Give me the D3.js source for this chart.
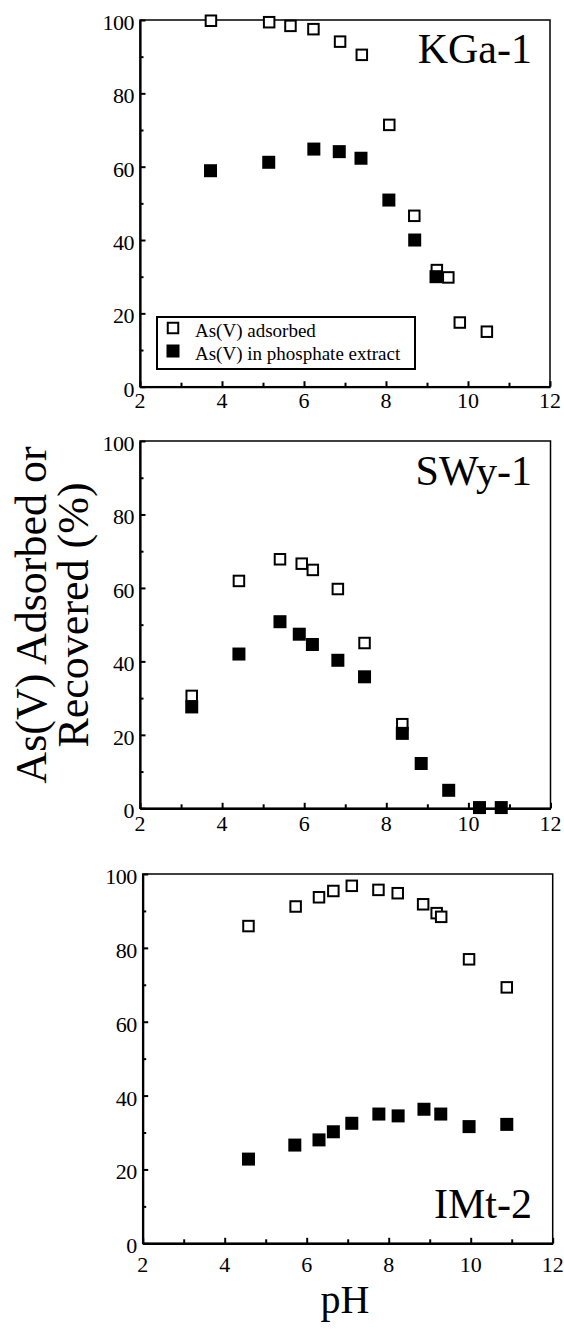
<!DOCTYPE html>
<html>
<head>
<meta charset="utf-8">
<script src="https://cdn.jsdelivr.net/npm/d3@7"></script>
<style>
  body { margin: 0; background: #fff; }
  svg text { font-family: "Liberation Serif", "Times New Roman", serif; fill: #000; }
</style>
</head>
<body>
<div id="chart"></div>
<script>
// KGa-1
var kgaAdsPH  = [3.73, 5.15, 5.67, 6.23, 6.88, 7.41, 8.08, 8.69, 9.24, 9.52, 9.80, 10.46];
var kgaAds    = [99.8, 99.4, 98.4, 97.5, 94.1, 90.5, 71.4, 46.6, 31.8, 29.8, 17.5, 15.0];
var kgaExtPH  = [3.72, 5.14, 6.24, 6.86, 7.39, 8.07, 8.70, 9.22];
var kgaExt    = [58.9, 61.2, 64.8, 64.1, 62.3, 50.9, 40.0, 30.0];
// SWy-1
var swyAdsPH  = [3.26, 4.41, 5.41, 5.94, 6.21, 6.82, 7.47, 8.39];
var swyAds    = [30.6, 61.9, 67.8, 66.6, 64.9, 59.7, 45.0, 22.9];
var swyExtPH  = [3.26, 4.41, 5.41, 5.88, 6.20, 6.82, 7.47, 8.39, 8.85, 9.52, 10.27, 10.80];
var swyExt    = [27.6, 42.0, 50.8, 47.4, 44.6, 40.3, 35.8, 20.4, 12.2, 4.9, 0.2, 0.2];
// IMt-2
var imtAdsPH  = [4.58, 5.73, 6.30, 6.65, 7.10, 7.75, 8.22, 8.84, 9.17, 9.28, 9.96, 10.88];
var imtAds    = [85.9, 91.2, 93.7, 95.4, 96.8, 95.7, 94.8, 91.8, 89.4, 88.4, 76.9, 69.3];
var imtExtPH  = [4.58, 5.71, 6.30, 6.65, 7.10, 7.76, 8.23, 8.86, 9.27, 9.96, 10.88];
var imtExt    = [22.8, 26.6, 28.0, 30.2, 32.5, 35.0, 34.5, 36.3, 35.0, 31.6, 32.2];

var panelNames = ["KGa-1", "SWy-1", "IMt-2"];
var xMajor = [2, 4, 6, 8, 10, 12];
var xMinor = [3, 5, 7, 9, 11];
var yMajor = [0, 20, 40, 60, 80, 100];
var yMinor = [10, 30, 50, 70, 90];
var legendLabels = ["As(V) adsorbed", "As(V) in phosphate extract"];

function zip(xs, ys) {
    return xs.map(function(x, i){ return {ph: x, v: ys[i]}; });
}

var panels = [
    {name: panelNames[0], ads: zip(kgaAdsPH, kgaAds), ext: zip(kgaExtPH, kgaExt),
     left: 140, right: 550, top: 20, bottom: 386.7, xPad: 6, titleY: 63, legend: true},
    {name: panelNames[1], ads: zip(swyAdsPH, swyAds), ext: zip(swyExtPH, swyExt),
     left: 140, right: 550.5, top: 441, bottom: 808.3, xPad: 7, titleY: 485},
    {name: panelNames[2], ads: zip(imtAdsPH, imtAds), ext: zip(imtExtPH, imtExt),
     left: 142.7, right: 552.7, top: 874, bottom: 1243.3, xPad: 13, titleY: 1218}
];

var svg = d3.select("#chart").append("svg")
    .attr("width", 564)
    .attr("height", 1329);

var openSize = 10.5, fillSize = 13;

panels.forEach(function(p){
    var x = d3.scaleLinear().domain([2, 12]).range([p.left, p.right]);
    var y = d3.scaleLinear().domain([0, 100]).range([p.bottom, p.top]);

    var g = svg.append("g");

    // frame (top & right thinner)
    g.append("rect")
        .attr("x", p.left).attr("y", p.top)
        .attr("width", p.right - p.left).attr("height", p.bottom - p.top)
        .attr("fill", "none").attr("stroke", "#000").attr("stroke-width", 1.5);

    // minor ticks
    g.append("g")
        .attr("transform", "translate(0," + p.bottom + ")")
        .call(d3.axisBottom(x).tickValues(xMinor).tickSize(-4).tickSizeOuter(0).tickFormat(""))
        .call(function(s){ s.select(".domain").remove(); s.selectAll("line").attr("stroke-width", 2); });
    g.append("g")
        .attr("transform", "translate(" + p.left + ",0)")
        .call(d3.axisLeft(y).tickValues(yMinor).tickSize(-3.5).tickSizeOuter(0).tickFormat(""))
        .call(function(s){ s.select(".domain").remove(); s.selectAll("line").attr("stroke-width", 2); });

    // major axes (lines only, labels drawn below)
    var xa = g.append("g")
        .attr("transform", "translate(0," + p.bottom + ")")
        .call(d3.axisBottom(x).tickValues(xMajor).tickSize(-5.5).tickSizeOuter(0).tickFormat(""));
    var ya = g.append("g")
        .attr("transform", "translate(" + p.left + ",0)")
        .call(d3.axisLeft(y).tickValues(yMajor).tickSize(-5.5).tickSizeOuter(0).tickFormat(""));
    [xa, ya].forEach(function(a){
        a.select(".domain").attr("stroke-width", 2.2);
        a.selectAll("line").attr("stroke-width", 2);
        a.selectAll("text").remove();
    });

    g.selectAll(".xlab").data(xMajor).enter().append("text")
        .attr("class", "xlab")
        .attr("x", function(d){ return x(d); })
        .attr("y", p.bottom + p.xPad + 15.5)
        .attr("text-anchor", "middle")
        .style("font-size", "22px")
        .text(function(d){ return d; });

    g.selectAll(".ylab").data(yMajor).enter().append("text")
        .attr("class", "ylab")
        .attr("x", p.left - 6)
        .attr("y", function(d){ return y(d) + 10; })
        .attr("text-anchor", "end")
        .attr("letter-spacing", "-0.5px")
        .style("font-size", "22px")
        .text(function(d){ return d; });

    // open squares (adsorbed)
    g.selectAll(".ads").data(p.ads).enter().append("rect")
        .attr("class", "ads")
        .attr("x", function(d){ return x(d.ph) - openSize / 2; })
        .attr("y", function(d){ return y(d.v) - openSize / 2; })
        .attr("width", openSize).attr("height", openSize)
        .attr("fill", "#fff").attr("stroke", "#000").attr("stroke-width", 2);

    // filled squares (extract)
    g.selectAll(".ext").data(p.ext).enter().append("rect")
        .attr("class", "ext")
        .attr("x", function(d){ return x(d.ph) - fillSize / 2; })
        .attr("y", function(d){ return y(d.v) - fillSize / 2; })
        .attr("width", fillSize).attr("height", fillSize)
        .attr("fill", "#000");

    g.append("text")
        .attr("x", 532).attr("y", p.titleY)
        .attr("text-anchor", "end")
        .style("font-size", "42px")
        .text(p.name);

    if (p.legend) {
        var lg = g.append("g");
        lg.append("rect")
            .attr("x", 157).attr("y", 317).attr("width", 258).attr("height", 52)
            .attr("fill", "#fff").attr("stroke", "#000").attr("stroke-width", 2);
        legendLabels.forEach(function(lab, i){
            var cy = 328 + i * 23;
            if (i === 0) {
                lg.append("rect").attr("x", 173 - openSize / 2).attr("y", cy - openSize / 2)
                    .attr("width", openSize).attr("height", openSize)
                    .attr("fill", "#fff").attr("stroke", "#000").attr("stroke-width", 2);
            } else {
                lg.append("rect").attr("x", 173 - fillSize / 2).attr("y", cy - fillSize / 2)
                    .attr("width", fillSize).attr("height", fillSize).attr("fill", "#000");
            }
            lg.append("text")
                .attr("x", 195).attr("y", cy + 8.5)
                .style("font-size", "19px")
                .text(lab);
        });
    }
});

// y axis title
var yt = svg.append("text")
    .attr("transform", "translate(0,615) rotate(-90)")
    .attr("text-anchor", "middle")
    .style("font-size", "44px");
yt.append("tspan").attr("x", 0).attr("y", 46).text("As(V) Adsorbed or");
yt.append("tspan").attr("x", 0).attr("y", 88).text("Recovered (%)");

// x axis title
svg.append("text")
    .attr("x", 345).attr("y", 1313)
    .attr("text-anchor", "middle")
    .style("font-size", "40px")
    .text("pH");
</script>
</body>
</html>
